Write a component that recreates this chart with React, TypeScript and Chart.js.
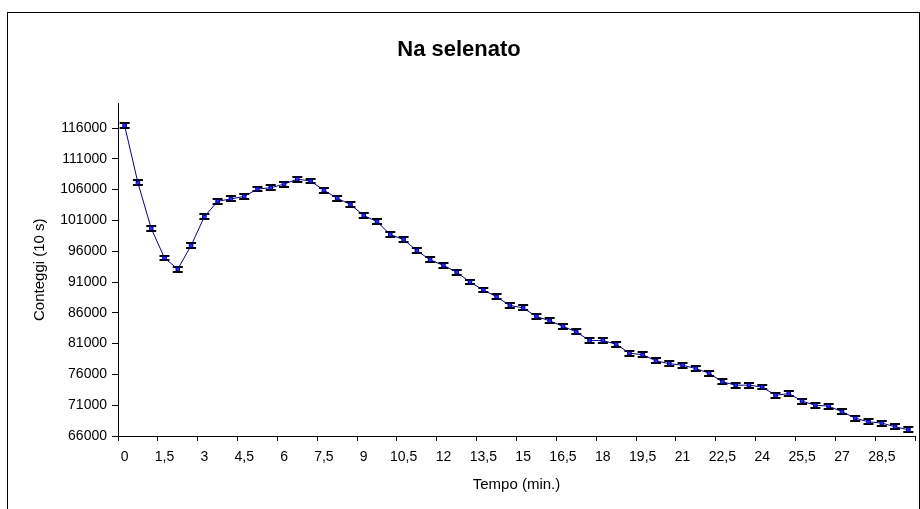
import React, { useEffect, useRef } from "react";
import { Chart, registerables } from "chart.js";

Chart.register(...registerables);

const chartTitle = "Na selenato";
const xTitle = "Tempo (min.)";
const yTitle = "Conteggi (10 s)";

const times = [
  "0", "0,5", "1", "1,5", "2", "2,5", "3", "3,5", "4", "4,5",
  "5", "5,5", "6", "6,5", "7", "7,5", "8", "8,5", "9", "9,5",
  "10", "10,5", "11", "11,5", "12", "12,5", "13", "13,5", "14", "14,5",
  "15", "15,5", "16", "16,5", "17", "17,5", "18", "18,5", "19", "19,5",
  "20", "20,5", "21", "21,5", "22", "22,5", "23", "23,5", "24", "24,5",
  "25", "25,5", "26", "26,5", "27", "27,5", "28", "28,5", "29", "29,5",
];

const counts = [
  116400, 107100, 99700, 94900, 93100, 96900, 101600, 104100, 104500, 104900,
  106100, 106300, 106900, 107700, 107400, 105900, 104600, 103600, 101800, 100800,
  98700, 97900, 96100, 94600, 93700, 92600, 91000, 89700, 88600, 87200,
  86800, 85400, 84700, 83800, 82900, 81500, 81500, 80900, 79450, 79200,
  78200, 77750, 77500, 76950, 76200, 74800, 74250, 74250, 73950, 72600,
  72900, 71650, 71000, 70850, 69950, 68900, 68300, 68100, 67500, 67000,
];

const countError = 400;

const yTickValues = [66000, 71000, 76000, 81000, 86000, 91000, 96000, 101000, 106000, 111000, 116000];
const yMin = 66000;
const yMax = 120000;
const xLabelEvery = 3;

const FONT = "'Liberation Sans', Arial, sans-serif";

const errorBarsPlugin = {
  id: "errorBars",
  beforeDatasetsDraw(chart: any) {
    const meta = chart.getDatasetMeta(0);
    const yScale = chart.scales.y;
    const ctx = chart.ctx;
    ctx.save();
    ctx.strokeStyle = "#000000";
    meta.data.forEach((pt: any, i: number) => {
      const v = counts[i];
      const top = Math.round(yScale.getPixelForValue(v + countError));
      const bot = Math.round(yScale.getPixelForValue(v - countError));
      const x = pt.x;
      ctx.lineWidth = 1;
      ctx.beginPath();
      ctx.moveTo(x, top);
      ctx.lineTo(x, bot);
      ctx.stroke();
      ctx.lineWidth = 2;
      ctx.beginPath();
      ctx.moveTo(x - 5, top);
      ctx.lineTo(x + 5, top);
      ctx.moveTo(x - 5, bot);
      ctx.lineTo(x + 5, bot);
      ctx.stroke();
    });
    ctx.restore();
  },
};

export default function App() {
  const canvasRef = useRef<HTMLCanvasElement | null>(null);

  useEffect(() => {
    if (!canvasRef.current) return;
    const chart = new Chart(canvasRef.current, {
      type: "line",
      data: {
        labels: times,
        datasets: [
          {
            data: counts,
            borderColor: "#000080",
            borderWidth: 1,
            backgroundColor: "#1a1aff",
            pointStyle: "rect",
            pointRadius: 2.5,
            pointBorderColor: "#000080",
            pointBorderWidth: 1,
            pointBackgroundColor: "#2a2aff",
            tension: 0,
          },
        ],
      },
      options: {
        responsive: false,
        animation: false,
        events: [],
        layout: { padding: { left: 0, right: 2, top: 0, bottom: 0 } },
        plugins: {
          legend: { display: false },
          tooltip: { enabled: false },
          title: {
            display: true,
            text: chartTitle,
            color: "#000",
            font: { family: FONT, size: 22, weight: "bold" },
            padding: { top: 37, bottom: 40 },
          },
        },
        scales: {
          x: {
            type: "category",
            offset: true,
            grid: {
              offset: true,
              drawOnChartArea: false,
              drawTicks: true,
              tickLength: 5,
              tickColor: (ctx: any) =>
                ctx.index === undefined || ctx.index % xLabelEvery === 0 ? "#000" : "rgba(0,0,0,0)",
            },
            border: { display: true, color: "#000", width: 1 },
            ticks: {
              autoSkip: false,
              maxRotation: 0,
              minRotation: 0,
              padding: 8,
              color: "#000",
              font: { family: FONT, size: 14 },
              callback: function (this: any, val: any, idx: number) {
                return idx % xLabelEvery === 0 ? this.getLabelForValue(val) : "";
              },
            },
            title: {
              display: true,
              text: xTitle,
              color: "#000",
              font: { family: FONT, size: 15 },
              padding: { top: 0, bottom: 15 },
            },
            afterFit: (scale: any) => {
              scale.height = 73;
            },
          },
          y: {
            type: "linear",
            min: yMin,
            max: yMax,
            grid: {
              drawOnChartArea: false,
              drawTicks: true,
              tickLength: 6,
              tickColor: "#000",
            },
            border: { display: true, color: "#000", width: 1 },
            afterBuildTicks: (scale: any) => {
              scale.ticks = yTickValues.map((value) => ({ value }));
            },
            ticks: {
              padding: 5,
              color: "#000",
              font: { family: FONT, size: 14 },
              callback: (val: any) => String(val),
            },
            title: {
              display: true,
              text: yTitle,
              color: "#000",
              font: { family: FONT, size: 15 },
              padding: { top: 31, bottom: 0 },
            },
            afterFit: (scale: any) => {
              scale.width = 118;
            },
          },
        },
      },
      plugins: [errorBarsPlugin],
    });
    return () => chart.destroy();
  }, []);

  return (
    <div
      style={{
        position: "fixed",
        left: 0,
        top: 0,
        width: 920,
        height: 509,
        overflow: "hidden",
        background: "#fff",
      }}
    >
      <div
        style={{
          position: "absolute",
          left: 7,
          top: 12,
          width: 913,
          height: 540,
          border: "1px solid #000",
          boxSizing: "border-box",
        }}
      />
      <canvas
        ref={canvasRef}
        width={920}
        height={509}
        style={{ position: "absolute", left: 0, top: 0, width: 920, height: 509 }}
      />
    </div>
  );
}
